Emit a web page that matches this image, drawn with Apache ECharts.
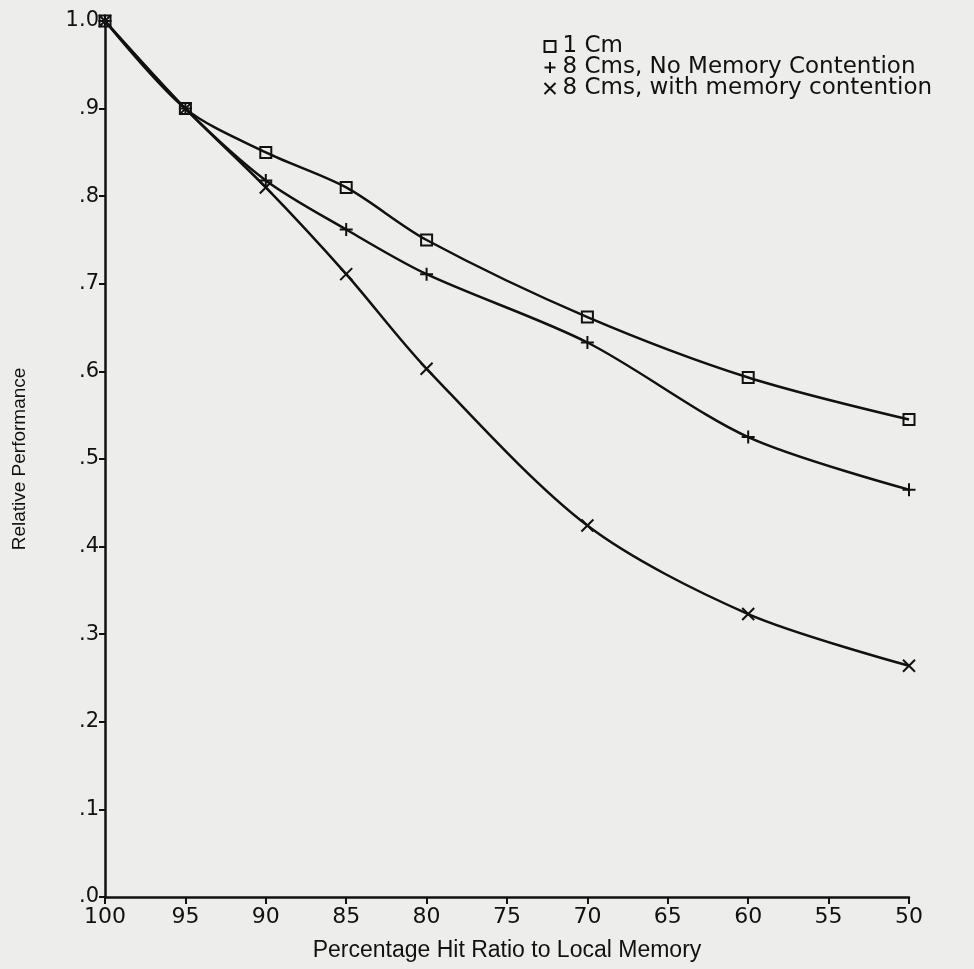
<!DOCTYPE html>
<html>
<head>
<meta charset="utf-8">
<script src="https://cdn.jsdelivr.net/npm/echarts@6/dist/echarts.min.js"></script>
<style>
html,body{margin:0;padding:0;background:#ededeb;}
#chart{width:974px;height:969px;}
</style>
</head>
<body>
<div id="chart"></div>
<script>
var hitRatio = [100, 95, 90, 85, 80, 70, 60, 50];
var oneCm = [1.0, 0.90, 0.850, 0.810, 0.750, 0.662, 0.593, 0.545];
var eightNoCont = [1.0, 0.90, 0.818, 0.762, 0.711, 0.633, 0.525, 0.465];
var eightCont = [1.0, 0.90, 0.810, 0.711, 0.603, 0.424, 0.323, 0.264];
var seriesNames = ['1 Cm', '8 Cms, No Memory Contention', '8 Cms, with memory contention'];

function pairs(ys){ return hitRatio.map(function(x,i){ return [x, ys[i]]; }); }

var squarePath = 'path://M0,0L10,0L10,10L0,10Z';
var plusPath = 'path://M0,5L10,5M5,0L5,10';
var crossPath = 'path://M0,0L10,10M10,0L0,10';
var ink = '#111111';
var textFont = '"DejaVu Sans", "Noto Sans", sans-serif';

var chart = echarts.init(document.getElementById('chart'), null, {renderer:'canvas'});
chart.setOption({
  backgroundColor: '#ededeb',
  animation: false,
  grid: {left: 105, right: 65, top: 21, bottom: 72, containLabel: false},
  legend: {
    orient: 'vertical', left: 537, top: 30, itemGap: -2, itemWidth: 11, itemHeight: 11,
    textStyle: {fontFamily: textFont, fontSize: 23, lineHeight: 21, color: ink, padding: [0,0,0,2]},
    data: [
      {name: seriesNames[0], icon: squarePath, itemStyle:{color:'none', borderColor: ink, borderWidth: 2}},
      {name: seriesNames[1], icon: plusPath, itemStyle:{color:'none', borderColor: ink, borderWidth: 2}},
      {name: seriesNames[2], icon: crossPath, itemStyle:{color:'none', borderColor: ink, borderWidth: 2}}
    ]
  },
  xAxis: {
    type: 'value', inverse: true, min: 50, max: 100, interval: 5,
    name: 'Percentage Hit Ratio to Local Memory', nameLocation: 'middle', nameGap: 42,
    nameTextStyle: {fontFamily: '"Liberation Sans Narrow", "Liberation Sans", sans-serif', fontSize: 23, color: ink},
    axisLine: {lineStyle: {color: ink, width: 2.5}},
    axisTick: {length: 7, lineStyle: {color: ink, width: 2}},
    axisLabel: {fontFamily: textFont, fontSize: 22, color: ink, margin: 9},
    splitLine: {show: false}
  },
  yAxis: {
    type: 'value', min: 0, max: 1, interval: 0.1,
    name: 'Relative Performance', nameLocation: 'middle', nameGap: 76, nameRotate: 90,
    nameTextStyle: {fontFamily: '"Liberation Sans", Arial, sans-serif', fontSize: 19, color: ink},
    axisLine: {show: true, lineStyle: {color: ink, width: 2.5}},
    axisTick: {show: true, length: 6, lineStyle: {color: ink, width: 2}},
    axisLabel: {fontFamily: textFont, fontSize: 21, color: ink, margin: 6,
      formatter: function(v){ var s = (Math.round(v*10)/10).toFixed(1); return v >= 0.999 ? '1.0' : s.replace(/^0/, ''); }},
    splitLine: {show: false}
  },
  series: [
    {name: seriesNames[0], type: 'line', smooth: 0.3, data: pairs(oneCm),
     symbol: squarePath, symbolSize: 11, lineStyle: {color: ink, width: 2.5},
     itemStyle: {color: 'none', borderColor: ink, borderWidth: 2}},
    {name: seriesNames[1], type: 'line', smooth: 0.3, data: pairs(eightNoCont),
     symbol: plusPath, symbolSize: 13, lineStyle: {color: ink, width: 2.5},
     itemStyle: {color: 'none', borderColor: ink, borderWidth: 2}},
    {name: seriesNames[2], type: 'line', smooth: 0.3, data: pairs(eightCont),
     symbol: crossPath, symbolSize: 12, lineStyle: {color: ink, width: 2.5},
     itemStyle: {color: 'none', borderColor: ink, borderWidth: 2}}
  ]
});
</script>
</body>
</html>
